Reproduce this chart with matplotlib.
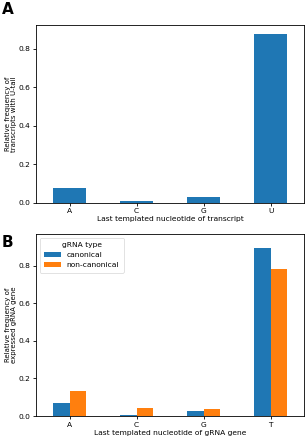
import numpy as np
import matplotlib
matplotlib.use("Agg")
import matplotlib.pyplot as plt

# panel A data
nuc_a = ["A", "C", "G", "U"]
freq_a = [0.075, 0.012, 0.030, 0.878]

# panel B data
nuc_b = ["A", "C", "G", "T"]
canonical = [0.069, 0.005, 0.025, 0.897]
non_canonical = [0.133, 0.041, 0.035, 0.784]

blue = "#1f77b4"
orange = "#ff7f0e"
fs = 5.4

plt.rcParams["font.family"] = "DejaVu Sans"
plt.rcParams["axes.linewidth"] = 0.6

fig = plt.figure(figsize=(3.05, 4.4), dpi=100)

# panel A
ax1 = fig.add_axes([0.118, 0.539, 0.879, 0.405])
x = np.arange(len(nuc_a))
ax1.bar(x, freq_a, width=0.5, color=blue)
ax1.set_xlim(-0.5, 3.5)
ax1.set_ylim(0, 0.925)
ax1.set_xticks(x)
ax1.set_xticklabels(nuc_a)
ax1.set_yticks([0.0, 0.2, 0.4, 0.6, 0.8])
ax1.tick_params(labelsize=fs, width=0.6, length=2.5, pad=1.5)
ax1.set_xlabel("Last templated nucleotide of transcript", fontsize=fs, labelpad=1.5)
ax1.set_ylabel("Relative frequency of\ntranscripts with U-tail", fontsize=5.0,
               linespacing=0.95)
ax1.yaxis.set_label_coords(-0.07, 0.5)

# panel B
ax2 = fig.add_axes([0.118, 0.0545, 0.879, 0.414])
x = np.arange(len(nuc_b))
w = 0.25
ax2.bar(x - w / 2, canonical, width=w, color=blue, label="canonical")
ax2.bar(x + w / 2, non_canonical, width=w, color=orange, label="non-canonical")
ax2.set_xlim(-0.5, 3.5)
ax2.set_ylim(0, 0.97)
ax2.set_xticks(x)
ax2.set_xticklabels(nuc_b)
ax2.set_yticks([0.0, 0.2, 0.4, 0.6, 0.8])
ax2.tick_params(labelsize=fs, width=0.6, length=2.5, pad=1.5)
ax2.set_xlabel("Last templated nucleotide of gRNA gene", fontsize=fs, labelpad=1.5)
ax2.set_ylabel("Relative frequency of\nexpressed gRNA gene", fontsize=5.0,
               linespacing=0.95)
ax2.yaxis.set_label_coords(-0.07, 0.5)
leg = ax2.legend(title="gRNA type", fontsize=fs, title_fontsize=fs, loc="upper left",
                 handlelength=2.2, frameon=True, borderpad=0.6)
leg.get_frame().set_linewidth(0.5)

# panel letters
fig.text(0.005, 0.995, "A", fontsize=11, fontweight="bold", va="top", ha="left")
fig.text(0.005, 0.465, "B", fontsize=11, fontweight="bold", va="top", ha="left")

fig.savefig("out.png", dpi=100)
